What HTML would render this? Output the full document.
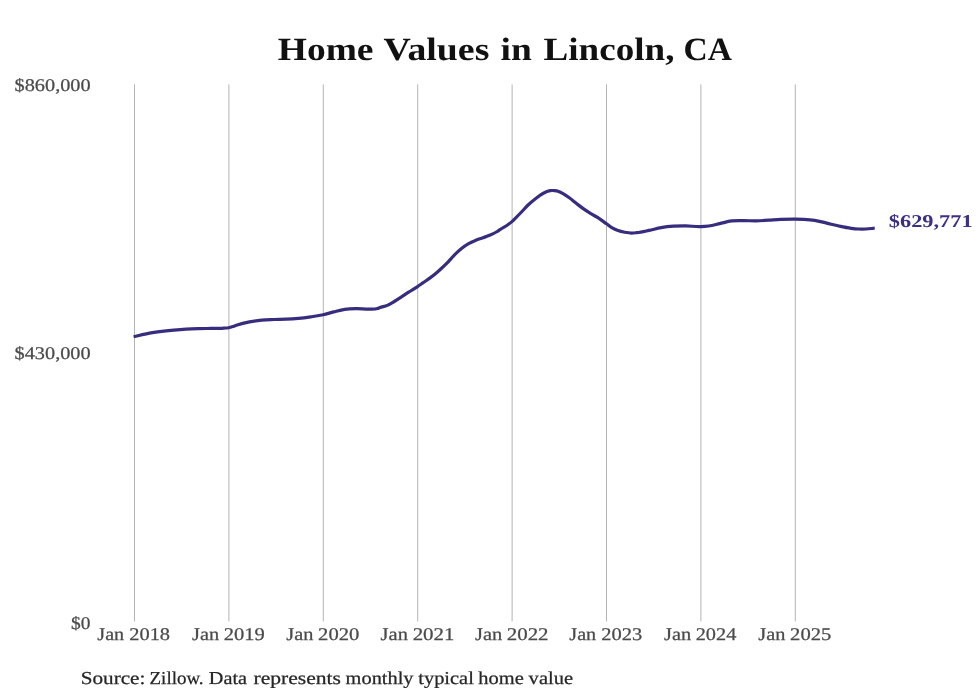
<!DOCTYPE html>
<html><head><meta charset="utf-8"><title>Home Values in Lincoln, CA</title>
<style>
html,body{margin:0;padding:0;background:#fff;}
body{width:980px;height:699px;overflow:hidden;font-family:"Liberation Serif",serif;}
svg{display:block;}
text{font-family:"Liberation Serif",serif;text-rendering:geometricPrecision;}
.grid line{stroke:#b4b4b4;stroke-width:1;}
</style></head>
<body>
<svg width="980" height="699" viewBox="0 0 980 699">
<rect width="980" height="699" fill="#ffffff"/>
<g class="grid">
<line x1="134.50" y1="84.4" x2="134.50" y2="621.4"/>
<line x1="228.90" y1="84.4" x2="228.90" y2="621.4"/>
<line x1="323.30" y1="84.4" x2="323.30" y2="621.4"/>
<line x1="417.70" y1="84.4" x2="417.70" y2="621.4"/>
<line x1="512.10" y1="84.4" x2="512.10" y2="621.4"/>
<line x1="606.50" y1="84.4" x2="606.50" y2="621.4"/>
<line x1="700.90" y1="84.4" x2="700.90" y2="621.4"/>
<line x1="795.30" y1="84.4" x2="795.30" y2="621.4"/>
</g>
<path d="M133.60,336.70 C138.90,335.50 144.20,334.09 149.50,333.10 C157.67,331.58 165.83,330.82 174.00,330.05 C178.00,329.67 182.00,329.34 186.00,329.10 C190.17,328.85 194.33,328.71 198.50,328.60 C202.67,328.49 206.83,328.50 211.00,328.45 C214.67,328.40 218.33,328.52 222.00,328.30 C224.27,328.16 226.53,328.18 228.80,327.70 C230.20,327.41 231.60,326.95 233.00,326.50 C234.40,326.05 235.80,325.46 237.20,325.00 C241.30,323.65 245.40,322.72 249.50,321.90 C253.57,321.09 257.63,320.50 261.70,320.10 C265.80,319.70 269.90,319.65 274.00,319.50 C278.07,319.35 282.13,319.40 286.20,319.20 C290.30,319.00 294.40,318.70 298.50,318.30 C302.57,317.90 306.63,317.37 310.70,316.80 C314.87,316.21 319.03,315.73 323.20,314.80 C326.70,314.02 330.20,312.80 333.70,311.90 C337.37,310.96 341.03,309.84 344.70,309.30 C348.70,308.71 352.70,308.72 356.70,308.70 C360.80,308.68 364.90,309.30 369.00,309.20 C371.83,309.13 374.67,309.52 377.50,308.60 C378.33,308.33 379.17,307.91 380.00,307.60 C382.40,306.70 384.80,306.43 387.20,305.40 C389.57,304.39 391.93,302.91 394.30,301.50 C396.70,300.07 399.10,298.46 401.50,296.90 C403.87,295.36 406.23,293.73 408.60,292.20 C411.47,290.35 414.33,288.70 417.20,286.80 C419.10,285.54 421.00,284.21 422.90,282.90 C425.30,281.25 427.70,279.70 430.10,277.90 C432.47,276.13 434.83,274.25 437.20,272.20 C438.13,271.39 439.07,270.55 440.00,269.70 C442.40,267.52 444.80,265.35 447.20,262.90 C449.57,260.48 451.93,257.49 454.30,255.10 C456.70,252.68 459.10,250.43 461.50,248.50 C463.87,246.60 466.23,244.96 468.60,243.60 C471.00,242.22 473.40,241.27 475.80,240.30 C478.17,239.34 480.53,238.68 482.90,237.80 C485.30,236.91 487.70,236.06 490.10,235.00 C492.47,233.96 494.83,232.98 497.20,231.50 C498.13,230.92 499.07,230.22 500.00,229.60 C502.40,228.02 504.80,226.88 507.20,225.20 C508.87,224.04 510.53,222.95 512.20,221.40 C512.90,220.75 513.60,220.00 514.30,219.30 C516.70,216.89 519.10,214.48 521.50,212.00 C523.87,209.55 526.23,206.75 528.60,204.50 C531.00,202.21 533.40,200.24 535.80,198.40 C538.17,196.58 540.53,194.78 542.90,193.50 C545.30,192.20 547.70,191.08 550.10,190.70 C551.53,190.47 552.97,190.48 554.40,190.60 C555.80,190.72 557.20,190.90 558.60,191.40 C559.80,191.83 561.00,192.54 562.20,193.20 C564.57,194.50 566.93,196.10 569.30,197.80 C571.70,199.53 574.10,201.64 576.50,203.50 C578.87,205.34 581.23,207.23 583.60,208.90 C586.00,210.60 588.40,212.12 590.80,213.60 C593.17,215.06 595.53,216.19 597.90,217.70 C600.77,219.53 603.63,221.75 606.50,223.80 C608.40,225.16 610.30,226.77 612.20,227.90 C614.13,229.05 616.07,229.89 618.00,230.60 C620.23,231.42 622.47,231.89 624.70,232.30 C627.07,232.74 629.43,233.11 631.80,233.10 C633.43,233.10 635.07,232.88 636.70,232.70 C640.80,232.24 644.90,231.25 649.00,230.40 C653.07,229.55 657.13,228.30 661.20,227.60 C665.30,226.90 669.40,226.48 673.50,226.20 C677.57,225.92 681.63,225.87 685.70,225.90 C690.60,225.94 695.50,226.74 700.40,226.60 C703.17,226.52 705.93,226.37 708.70,226.00 C712.37,225.50 716.03,224.41 719.70,223.60 C723.70,222.71 727.70,221.40 731.70,220.90 C735.80,220.38 739.90,220.60 744.00,220.60 C748.07,220.60 752.13,220.97 756.20,220.90 C760.30,220.83 764.40,220.45 768.50,220.20 C772.57,219.95 776.63,219.58 780.70,219.40 C785.57,219.18 790.43,219.06 795.30,219.10 C798.10,219.12 800.90,219.15 803.70,219.30 C807.37,219.49 811.03,219.72 814.70,220.30 C818.70,220.94 822.70,222.15 826.70,223.10 C830.80,224.07 834.90,225.18 839.00,226.05 C843.07,226.91 847.13,227.78 851.20,228.30 C853.67,228.62 856.13,228.88 858.60,229.00 C861.03,229.11 863.47,229.10 865.90,229.00 C868.83,228.88 871.77,228.47 874.70,228.20" fill="none" stroke="#372d7e" stroke-width="3.2" stroke-linejoin="round" stroke-linecap="butt"/>
<defs><filter id="g" x="0" y="0" width="980" height="699" filterUnits="userSpaceOnUse"><feOffset dx="0" dy="0"/></filter></defs>
<g class="txt" filter="url(#g)">
<text x="277.84" y="60.40" font-size="32.4" font-weight="bold" fill="#111111" textLength="95.65" lengthAdjust="spacingAndGlyphs">Home</text>
<text x="383.62" y="60.40" font-size="32.4" font-weight="bold" fill="#111111" textLength="105.76" lengthAdjust="spacingAndGlyphs">Values</text>
<text x="500.49" y="60.40" font-size="32.4" font-weight="bold" fill="#111111" textLength="31.24" lengthAdjust="spacingAndGlyphs">in</text>
<text x="543.58" y="60.40" font-size="32.4" font-weight="bold" fill="#111111" textLength="130.85" lengthAdjust="spacingAndGlyphs">Lincoln,</text>
<text x="683.61" y="60.40" font-size="32.4" font-weight="bold" fill="#111111" textLength="48.43" lengthAdjust="spacingAndGlyphs">CA</text>
<text x="14.55" y="91.00" font-size="17.9" stroke="#4a4a4a" stroke-width="0.25" fill="#4a4a4a" textLength="76.10" lengthAdjust="spacingAndGlyphs">$860,000</text>
<text x="14.55" y="358.70" font-size="17.9" stroke="#4a4a4a" stroke-width="0.25" fill="#4a4a4a" textLength="76.10" lengthAdjust="spacingAndGlyphs">$430,000</text>
<text x="71.12" y="628.60" font-size="17.9" stroke="#4a4a4a" stroke-width="0.25" fill="#4a4a4a" textLength="19.43" lengthAdjust="spacingAndGlyphs">$0</text>
<text x="97.35" y="640.40" font-size="17.9" stroke="#4a4a4a" stroke-width="0.25" fill="#4a4a4a" textLength="26.84" lengthAdjust="spacingAndGlyphs">Jan</text>
<text x="129.28" y="640.40" font-size="17.9" stroke="#4a4a4a" stroke-width="0.25" fill="#4a4a4a" textLength="40.81" lengthAdjust="spacingAndGlyphs">2018</text>
<text x="191.99" y="640.40" font-size="17.9" stroke="#4a4a4a" stroke-width="0.25" fill="#4a4a4a" textLength="27.17" lengthAdjust="spacingAndGlyphs">Jan</text>
<text x="223.69" y="640.40" font-size="17.9" stroke="#4a4a4a" stroke-width="0.25" fill="#4a4a4a" textLength="41.06" lengthAdjust="spacingAndGlyphs">2019</text>
<text x="286.28" y="640.40" font-size="17.9" stroke="#4a4a4a" stroke-width="0.25" fill="#4a4a4a" textLength="27.14" lengthAdjust="spacingAndGlyphs">Jan</text>
<text x="318.14" y="640.40" font-size="17.9" stroke="#4a4a4a" stroke-width="0.25" fill="#4a4a4a" textLength="41.17" lengthAdjust="spacingAndGlyphs">2020</text>
<text x="380.59" y="640.40" font-size="17.9" stroke="#4a4a4a" stroke-width="0.25" fill="#4a4a4a" textLength="27.31" lengthAdjust="spacingAndGlyphs">Jan</text>
<text x="412.65" y="640.40" font-size="17.9" stroke="#4a4a4a" stroke-width="0.25" fill="#4a4a4a" textLength="41.89" lengthAdjust="spacingAndGlyphs">2021</text>
<text x="475.06" y="640.40" font-size="17.9" stroke="#4a4a4a" stroke-width="0.25" fill="#4a4a4a" textLength="27.24" lengthAdjust="spacingAndGlyphs">Jan</text>
<text x="506.74" y="640.40" font-size="17.9" stroke="#4a4a4a" stroke-width="0.25" fill="#4a4a4a" textLength="41.83" lengthAdjust="spacingAndGlyphs">2022</text>
<text x="569.35" y="640.40" font-size="17.9" stroke="#4a4a4a" stroke-width="0.25" fill="#4a4a4a" textLength="26.84" lengthAdjust="spacingAndGlyphs">Jan</text>
<text x="601.26" y="640.40" font-size="17.9" stroke="#4a4a4a" stroke-width="0.25" fill="#4a4a4a" textLength="41.02" lengthAdjust="spacingAndGlyphs">2023</text>
<text x="663.99" y="640.40" font-size="17.9" stroke="#4a4a4a" stroke-width="0.25" fill="#4a4a4a" textLength="27.17" lengthAdjust="spacingAndGlyphs">Jan</text>
<text x="695.71" y="640.40" font-size="17.9" stroke="#4a4a4a" stroke-width="0.25" fill="#4a4a4a" textLength="40.62" lengthAdjust="spacingAndGlyphs">2024</text>
<text x="758.28" y="640.40" font-size="17.9" stroke="#4a4a4a" stroke-width="0.25" fill="#4a4a4a" textLength="27.14" lengthAdjust="spacingAndGlyphs">Jan</text>
<text x="790.13" y="640.40" font-size="17.9" stroke="#4a4a4a" stroke-width="0.25" fill="#4a4a4a" textLength="41.20" lengthAdjust="spacingAndGlyphs">2025</text>
<text x="888.81" y="226.50" font-size="18.0" font-weight="bold" fill="#3a3084" textLength="83.87" lengthAdjust="spacingAndGlyphs">$629,771</text>
<text x="80.68" y="683.60" font-size="18.2" stroke="#262626" stroke-width="0.25" fill="#262626" textLength="64.71" lengthAdjust="spacingAndGlyphs">Source:</text>
<text x="149.56" y="683.60" font-size="18.2" stroke="#262626" stroke-width="0.25" fill="#262626" textLength="54.05" lengthAdjust="spacingAndGlyphs">Zillow.</text>
<text x="208.87" y="683.60" font-size="18.2" stroke="#262626" stroke-width="0.25" fill="#262626" textLength="38.26" lengthAdjust="spacingAndGlyphs">Data</text>
<text x="253.50" y="683.60" font-size="18.2" stroke="#262626" stroke-width="0.25" fill="#262626" textLength="87.52" lengthAdjust="spacingAndGlyphs">represents</text>
<text x="345.62" y="683.60" font-size="18.2" stroke="#262626" stroke-width="0.25" fill="#262626" textLength="67.92" lengthAdjust="spacingAndGlyphs">monthly</text>
<text x="418.27" y="683.60" font-size="18.2" stroke="#262626" stroke-width="0.25" fill="#262626" textLength="55.55" lengthAdjust="spacingAndGlyphs">typical</text>
<text x="478.29" y="683.60" font-size="18.2" stroke="#262626" stroke-width="0.25" fill="#262626" textLength="45.45" lengthAdjust="spacingAndGlyphs">home</text>
<text x="528.63" y="683.60" font-size="18.2" stroke="#262626" stroke-width="0.25" fill="#262626" textLength="44.41" lengthAdjust="spacingAndGlyphs">value</text>
</g>
</svg>
</body></html>
